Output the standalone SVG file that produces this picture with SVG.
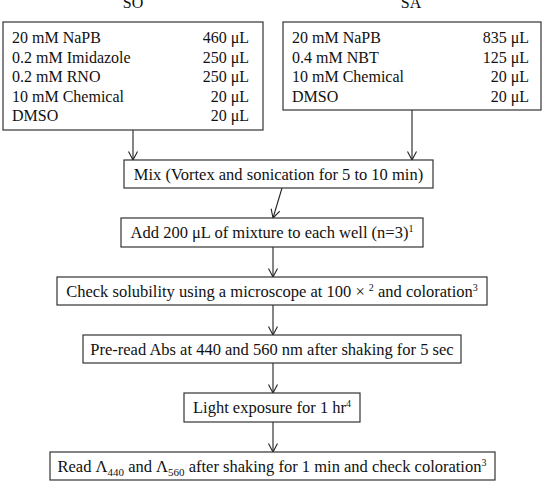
<svg xmlns="http://www.w3.org/2000/svg" width="548" height="486" viewBox="0 0 548 486" font-family="'Liberation Serif', 'DejaVu Serif', serif">
<defs>
<marker id="arr" viewBox="0 0 10 10" refX="10" refY="5" markerWidth="10" markerHeight="10" markerUnits="userSpaceOnUse" orient="auto">
<path d="M1.5,0.5 L10,5 L1.5,9.5" fill="none" stroke="#222" stroke-width="1.1"/>
</marker>
<style>
text{font-family:'Liberation Serif','DejaVu Serif',serif;font-size:16px;fill:#111}
.f{font-size:16.5px}
.box{fill:#fff;stroke:#333;stroke-width:1.2}
.c{text-anchor:middle}
.r{text-anchor:end}
.con{stroke:#222;stroke-width:1.1;fill:none}
.sup{font-size:10px}
.sub{font-size:11px}
</style>
</defs>
<rect width="548" height="486" fill="#fff"/>
<g id="connectors">
<line class="con" x1="133" y1="130" x2="133" y2="160" marker-end="url(#arr)"/>
<line class="con" x1="412" y1="110" x2="412" y2="160" marker-end="url(#arr)"/>
<line class="con" x1="282" y1="188" x2="273" y2="218" marker-end="url(#arr)"/>
<line class="con" x1="273" y1="247" x2="273" y2="277" marker-end="url(#arr)"/>
<line class="con" x1="273" y1="305" x2="273" y2="335" marker-end="url(#arr)"/>
<line class="con" x1="273" y1="363" x2="273" y2="393" marker-end="url(#arr)"/>
<line class="con" x1="273" y1="422" x2="273" y2="452" marker-end="url(#arr)"/>
</g>
<g id="so">
<text class="c" x="133" y="8">SO</text>
<rect class="box" x="3" y="22" width="260" height="108"/>
<text x="12" y="43">20 mM NaPB</text><text class="r" x="249" y="43">460 μL</text>
<text x="12" y="63">0.2 mM Imidazole</text><text class="r" x="249" y="63">250 μL</text>
<text x="12" y="82">0.2 mM RNO</text><text class="r" x="249" y="82">250 μL</text>
<text x="12" y="102">10 mM Chemical</text><text class="r" x="249" y="102">20 μL</text>
<text x="12" y="121">DMSO</text><text class="r" x="249" y="121">20 μL</text>
</g>
<g id="sa">
<text class="c" x="411" y="8">SA</text>
<rect class="box" x="283" y="22" width="258" height="88"/>
<text x="292" y="43">20 mM NaPB</text><text class="r" x="529" y="43">835 μL</text>
<text x="292" y="63">0.4 mM NBT</text><text class="r" x="529" y="63">125 μL</text>
<text x="292" y="82">10 mM Chemical</text><text class="r" x="529" y="82">20 μL</text>
<text x="292" y="102">DMSO</text><text class="r" x="529" y="102">20 μL</text>
</g>
<g id="mix">
<rect class="box" x="124" y="160" width="309" height="28"/>
<text class="c f" x="278.5" y="180">Mix (Vortex and sonication for 5 to 10 min)</text>
</g>
<g id="add">
<rect class="box" x="121" y="218" width="302" height="29"/>
<text class="c f" x="272" y="238">Add 200 μL of mixture to each well (n=3)<tspan class="sup" dy="-6">1</tspan></text>
</g>
<g id="check">
<rect class="box" x="57" y="277" width="430" height="28"/>
<text class="c f" x="272" y="297">Check solubility using a microscope at 100 × <tspan class="sup" dy="-6">2</tspan><tspan dy="6"> and coloration</tspan><tspan class="sup" dy="-6">3</tspan></text>
</g>
<g id="preread">
<rect class="box" x="83" y="335" width="378" height="28"/>
<text class="c f" x="272" y="355">Pre-read Abs at 440 and 560 nm after shaking for 5 sec</text>
</g>
<g id="light">
<rect class="box" x="184" y="393" width="176" height="29"/>
<text class="c f" x="272" y="413">Light exposure for 1 hr<tspan class="sup" dy="-6">4</tspan></text>
</g>
<g id="read">
<rect class="box" x="50" y="452" width="445" height="28"/>
<text class="c f" x="272" y="472">Read Λ<tspan class="sub" dy="4">440</tspan><tspan dy="-4"> and Λ</tspan><tspan class="sub" dy="4">560</tspan><tspan dy="-4"> after shaking for 1 min and check coloration</tspan><tspan class="sup" dy="-6">3</tspan></text>
</g>
</svg>
